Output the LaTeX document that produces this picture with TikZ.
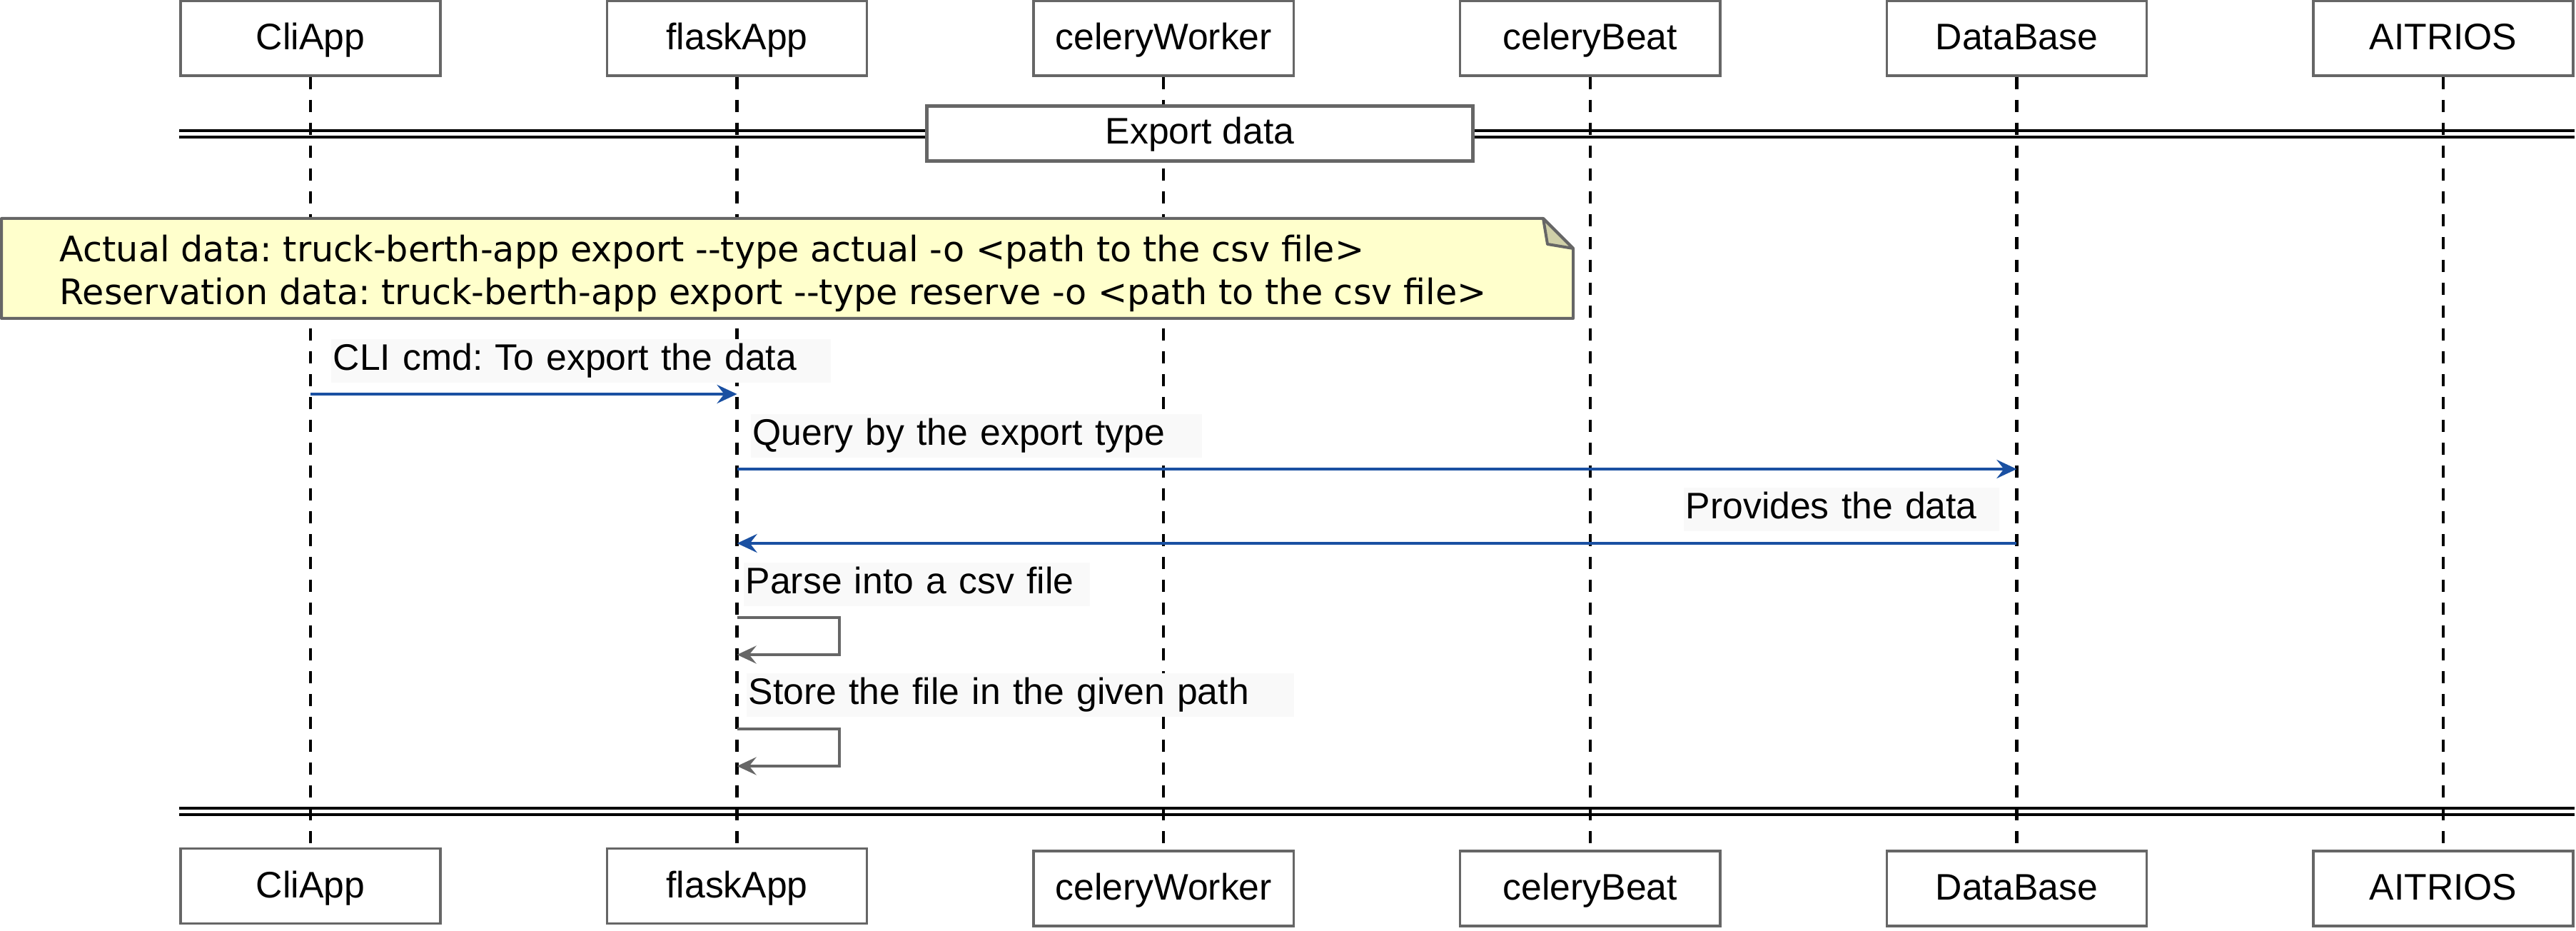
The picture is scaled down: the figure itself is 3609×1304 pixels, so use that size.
\documentclass[tikz,border=0pt]{standalone}
\usepackage{fontspec}
\setmainfont{Liberation Sans}
\newfontfamily\notefont{DejaVu Sans}
\usetikzlibrary{arrows.meta}
\definecolor{boxline}{HTML}{666666}
\definecolor{msgblue}{HTML}{1A50A2}
\definecolor{notefill}{HTML}{FFFFCC}
\definecolor{foldfill}{HTML}{D0D0A8}
\definecolor{lblbg}{HTML}{F9F9F9}
\newcommand{\lblfont}{\fontsize{14.7pt}{17.6pt}\selectfont}
\newcommand{\notesize}{\fontsize{14pt}{17.07pt}\selectfont}
\frenchspacing

\begin{document}
\begin{tikzpicture}[x=0.01cm, y=-0.01cm,
  actor/.style={draw=boxline, line width=0.035cm, fill=white, inner sep=0pt,
    minimum width=3.64cm, minimum height=1.05cm,
    text height=0.37cm, text depth=0.05cm, font=\lblfont},
  lifeline/.style={line width=0.045cm, dash pattern=on 0.17cm off 0.15cm},
  sepline/.style={line width=0.04cm},
  groupbox/.style={draw=boxline, line width=0.05cm, fill=white, inner sep=0pt,
    minimum width=7.64cm, minimum height=0.76cm,
    text height=0.37cm, text depth=0.08cm, font=\lblfont},
  notebox/.style={draw=boxline, line width=0.04cm, line join=round},
  notetext/.style={align=left, inner sep=0pt, font=\notefont\notesize},
  msglbl/.style={fill=lblbg, inner xsep=0.03cm, inner ysep=0pt, align=left,
    minimum height=0.61cm, text height=0.37cm, text depth=0.1cm, font=\lblfont},
  msg/.style={msgblue, line width=0.045cm,
    -{Stealth[length=0.28cm, width=0.26cm, inset=0.1cm]}},
  selfmsg/.style={boxline, line width=0.04cm,
    -{Stealth[length=0.27cm, width=0.25cm, inset=0.1cm]}}]

\useasboundingbox (0,0) rectangle (3609,1304);

% participants (head and foot boxes)
\foreach \name/\txt/\i/\yb in {cli/CliApp/0/1241, flask/flaskApp/1/1241,
    worker/celeryWorker/2/1244.5, beat/celeryBeat/3/1244.5,
    db/DataBase/4/1244.5, aitrios/AITRIOS/5/1244.5} {
  \node[actor] (\name T) at ({435+597.6*\i}, 53.5) {\txt};
  \node[actor] (\name B) at ({435+597.6*\i}, \yb) {\txt};
}

% lifelines
\foreach \name in {cli,flask,worker,beat,db,aitrios}
  \draw[lifeline] (\name T) -- (\name B);

% group separators
\coordinate (sepA) at (0,183);
\coordinate (sepB) at (0,192);
\coordinate (sepC) at (0,1132);
\coordinate (sepD) at (0,1141);
\foreach \s in {sepA,sepB,sepC,sepD}
  \draw[sepline] (cliT.west |- \s) -- (aitriosT.east |- \s);
\node[groupbox] (grp) at (1681,187) {Export data};

% note
\draw[notebox, fill=notefill] (2,306) -- (2162,306) -- (2204,348) -- (2204,446) -- (2,446) -- cycle;
\draw[notebox, fill=foldfill] (2162,306) -- (2168,342) -- (2204,348) -- cycle;
\node[notetext, anchor=north west] (note) at (83,328)
  {Actual data: truck-berth-app export -{}-type actual -o <path to the csv file>\\
   Reservation data: truck-berth-app export -{}-type reserve -o <path to the csv file>};

% message labels
\node[msglbl, text width=6.94cm, anchor=north west] (lbl1) at (463,474) {CLI cmd: To export the data};
\node[msglbl, text width=6.26cm, anchor=north west] (lbl2) at (1051,579) {Query by the export type};
\node[msglbl, text width=4.36cm, anchor=north west] (lbl3) at (2358,682) {Provides the data};
\node[msglbl, text width=4.79cm, anchor=north west] (lbl4) at (1041,787) {Parse into a csv file};
\node[msglbl, text width=7.61cm, anchor=north west] (lbl5) at (1045,942) {Store the file in the given path};

% messages
\coordinate (m1) at (0,552);
\coordinate (m2) at (0,657);
\coordinate (m3) at (0,761);
\coordinate (m4) at (0,865);
\coordinate (m4r) at (0,917);
\coordinate (m5) at (0,1021);
\coordinate (m5r) at (0,1073);
\draw[msg] (cliT |- m1) -- (flaskT |- m1);
\draw[msg] (flaskT |- m2) -- (dbT |- m2);
\draw[msg] (dbT |- m3) -- (flaskT |- m3);
\draw[selfmsg] (flaskT |- m4) -- ++(143,0) |- (flaskT |- m4r);
\draw[selfmsg] (flaskT |- m5) -- ++(143,0) |- (flaskT |- m5r);

\end{tikzpicture}
\end{document}
